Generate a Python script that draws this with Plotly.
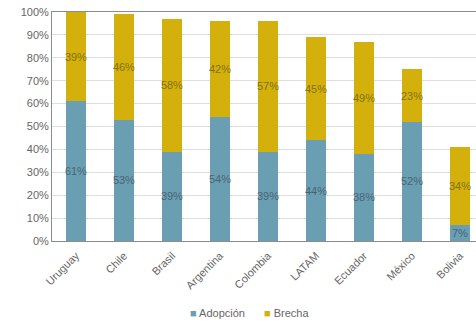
import plotly.graph_objects as go

paises = ["Uruguay", "Chile", "Brasil", "Argentina", "Colombia", "LATAM", "Ecuador", "México", "Bolivia"]
adopcion = [61, 53, 39, 54, 39, 44, 38, 52, 7]
brecha = [39, 46, 58, 42, 57, 45, 49, 23, 34]
y_ticks = [0, 10, 20, 30, 40, 50, 60, 70, 80, 90, 100]
series_names = ["Adopción", "Brecha"]
colors = ["#6a9eb2", "#d3b00b"]

fig = go.Figure()
fig.add_trace(go.Bar(
    x=paises, y=adopcion, name=series_names[0],
    marker=dict(color=colors[0], line=dict(width=0)),
    text=[f"{v}%" for v in adopcion], textposition="inside",
    insidetextanchor="middle", textangle=0, constraintext="none",
    textfont=dict(color="rgba(60,80,95,0.75)", size=11, family="Liberation Sans"),
    width=0.4,
))
fig.add_trace(go.Bar(
    x=paises, y=brecha, name=series_names[1],
    marker=dict(color=colors[1], line=dict(width=0)),
    text=[f"{v}%" for v in brecha], textposition="inside",
    insidetextanchor="middle", textangle=0, constraintext="none",
    textfont=dict(color="rgba(110,95,20,0.8)", size=11, family="Liberation Sans"),
    width=0.4,
))

# compact legend as text annotations
legend_x = [0.32, 0.495]
for name, col, lx in zip(series_names, colors, legend_x):
    fig.add_annotation(
        xref="paper", yref="paper", x=lx, y=-0.314, xanchor="left", yanchor="middle",
        text=f"<span style='color:{col}'>■</span> {name}", showarrow=False,
        font=dict(size=11, color="#666666", family="Liberation Sans"),
    )

fig.update_layout(
    barmode="stack",
    width=476, height=324,
    margin=dict(l=52, r=0, t=12, b=83),
    paper_bgcolor="white", plot_bgcolor="white",
    font=dict(family="Liberation Sans", color="#666666", size=11),
    showlegend=False,
)
fig.update_xaxes(
    range=[-0.5, 8.333], tickangle=-45, tickfont=dict(size=11, color="#666666"),
    showline=True, linecolor="#8c8c8c", linewidth=1, mirror=True,
    showgrid=False, ticks="", ticklabelstandoff=3,
)
fig.update_yaxes(
    range=[0, 100], tickvals=y_ticks, ticktext=[f"{v}%" for v in y_ticks],
    tickfont=dict(size=11, color="#666666"),
    showline=True, linecolor="#8c8c8c", linewidth=1, mirror=True,
    showgrid=True, gridcolor="#dedede", gridwidth=1, zeroline=False, ticks="",
)

fig.write_html("out.html")
